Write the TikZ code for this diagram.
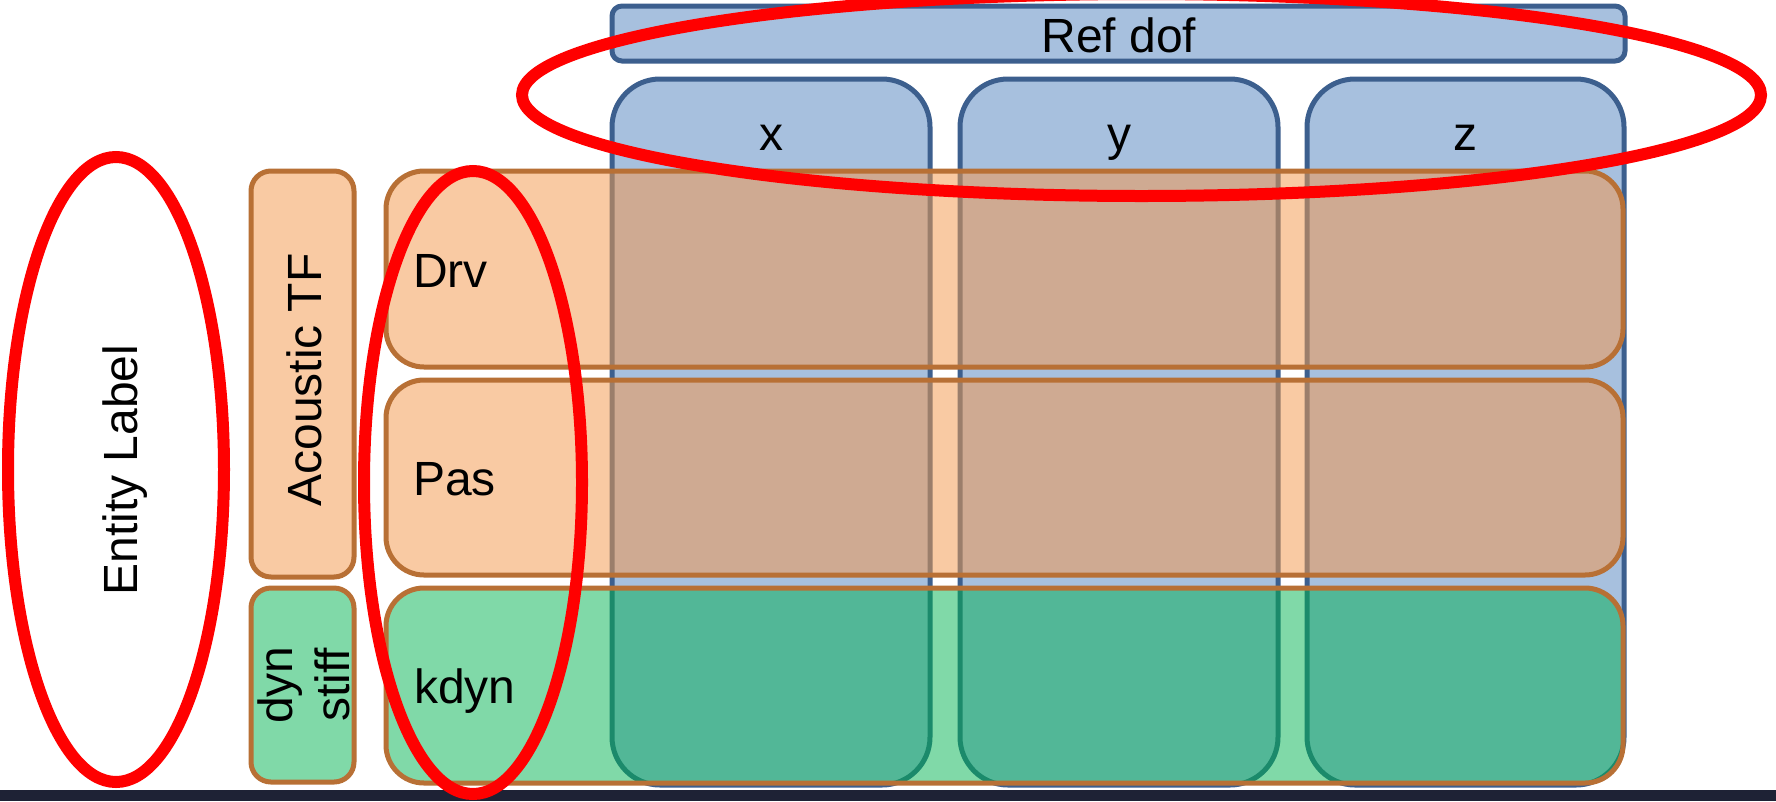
\documentclass[tikz,border=0pt]{standalone}
\usepackage{fontspec}
\setmainfont{Liberation Sans}
\definecolor{bluefill}{HTML}{A7C0DE}
\definecolor{bluedraw}{HTML}{3C5F8E}
\definecolor{peach}{HTML}{F9CAA3}
\definecolor{copper}{HTML}{B87035}
\definecolor{ovpeach}{HTML}{CFAA92}
\definecolor{ovpeachdraw}{HTML}{9B7E6B}
\definecolor{mint}{HTML}{80D9A8}
\definecolor{ovmint}{HTML}{52B797}
\definecolor{ovmintdraw}{HTML}{1B8A6B}
\definecolor{darkbar}{HTML}{1E2235}
\definecolor{markred}{HTML}{FF0000}
\begin{document}
\begin{tikzpicture}[x=1pt,y=-1pt,
  lbl/.style={inner sep=0pt, font=\fontsize{48}{57.6}\selectfont, text=black},
  bluebox/.style={fill=bluefill, draw=bluedraw, line width=5pt},
  colshape/.style={rounded corners=48pt},
  rowshape/.style={rounded corners=38pt},
  sideshape/.style={rounded corners=20pt},
  rowline/.style={draw=copper, line width=5pt},
  ovpeachcol/.style={fill=ovpeach, draw=ovpeachdraw, line width=5pt},
  ovmintcol/.style={fill=ovmint, draw=ovmintdraw, line width=5pt},
  redmark/.style={draw=markred, line width=12pt}
]
\useasboundingbox (0,0) rectangle (1776,801);
\fill[white] (0,0) rectangle (1776,801);

% Ref dof header
\draw[bluebox, rounded corners=10pt] (612,6) rectangle (1625,61);
\node[lbl, anchor=base] (refdof) at (1119,52) {Ref dof};

% columns
\foreach \a/\b in {612/930,960/1278,1307/1624}
  \draw[bluebox, colshape] (\a,79) rectangle (\b,785);
\node[lbl, anchor=base] (colx) at (771,150) {x};
\node[lbl, anchor=base] (coly) at (1119,150) {y};
\node[lbl, anchor=base] (colz) at (1465,150) {z};

% side boxes
\draw[fill=peach, rowline, sideshape] (251,171) rectangle (354,577);
\draw[fill=mint, rowline, sideshape] (251,588) rectangle (354,782);
\node[lbl, rotate=90, anchor=base] (acoustic) at (321,380) {Acoustic TF};
\node[lbl, rotate=90, align=center] (dynstiff) at (304,685) {dyn\\stiff};

% rows: fills
\fill[peach, rowshape] (386,171) rectangle (1623,367);
\fill[peach, rowshape] (386,380) rectangle (1623,575);
\fill[mint, rowshape] (386,588) rectangle (1623,783);

% rows: column overlays
\begin{scope}
  \clip[rowshape] (386,171) rectangle (1623,367);
  \foreach \a/\b in {612/930,960/1278,1307/1624}
    \draw[ovpeachcol, colshape] (\a,79) rectangle (\b,785);
\end{scope}
\begin{scope}
  \clip[rowshape] (386,380) rectangle (1623,575);
  \foreach \a/\b in {612/930,960/1278,1307/1624}
    \draw[ovpeachcol, colshape] (\a,79) rectangle (\b,785);
\end{scope}
\begin{scope}
  \clip[rowshape] (386,588) rectangle (1623,783);
  \foreach \a/\b in {612/930,960/1278,1307/1624}
    \draw[ovmintcol, colshape] (\a,79) rectangle (\b,785);
\end{scope}

% rows: outlines
\draw[rowline, rowshape] (386,171) rectangle (1623,367);
\draw[rowline, rowshape] (386,380) rectangle (1623,575);
\draw[rowline, rowshape] (386,588) rectangle (1623,783);

\node[lbl, anchor=base west] (drv) at (413,287) {Drv};
\node[lbl, anchor=base west] (pas) at (413,495) {Pas};
\node[lbl, anchor=base west] (kdyn) at (414,703) {kdyn};

% entity label
\node[lbl, rotate=90, anchor=base] (entity) at (137,470) {Entity Label};

% bottom bar
\fill[darkbar] (0,790) rectangle (1776,801);

% red annotation ellipses
\draw[redmark] (116,469.5) ellipse [x radius=108pt, y radius=312.5pt];
\draw[redmark] (473,482.5) ellipse [x radius=109pt, y radius=311.5pt];
\draw[redmark] (1141.5,95) ellipse [x radius=619.5pt, y radius=101pt];
\end{tikzpicture}
\end{document}
